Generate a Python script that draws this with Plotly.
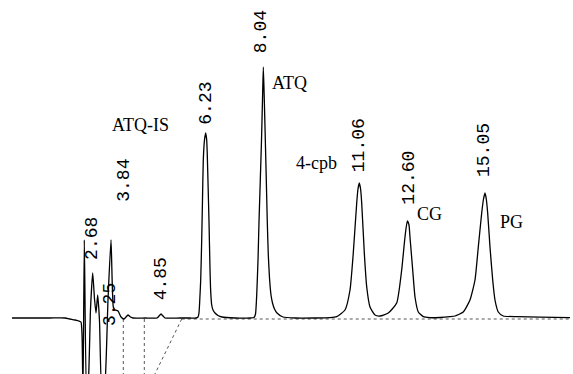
import plotly.graph_objects as go

time_min = [0.135, 0.701, 1.331, 1.803, 1.960, 2.117, 2.243, 2.306, 2.338, 2.369, 2.410, 2.479,
            2.542, 2.605, 2.674, 2.731, 2.778, 2.832, 2.888, 2.967, 3.046, 3.156, 3.250, 3.323,
            3.376, 3.470, 3.565, 3.659, 3.722, 3.785, 3.864, 3.942, 4.320, 4.698, 4.761, 4.824,
            4.886, 4.949, 5.421, 5.736, 5.925, 5.988, 6.019, 6.051, 6.073, 6.104, 6.129, 6.154,
            6.192, 6.230, 6.261, 6.280, 6.309, 6.334, 6.359, 6.381, 6.419, 6.460, 6.523, 6.617,
            6.743, 7.152, 7.624, 7.750, 7.797, 7.835, 7.876, 7.907, 7.948, 7.986, 8.017, 8.043,
            8.074, 8.106, 8.137, 8.168, 8.200, 8.238, 8.285, 8.332, 8.395, 8.474, 8.662, 9.040,
            9.669, 10.141, 10.352, 10.613, 10.771, 10.874, 10.982, 11.022, 11.063, 11.104, 11.139,
            11.221, 11.297, 11.400, 11.557, 11.715, 11.976, 12.240, 12.397, 12.501, 12.574, 12.627,
            12.658, 12.744, 12.816, 12.920, 13.078, 13.288, 13.602, 13.917, 14.075, 14.335, 14.546,
            14.704, 14.808, 14.915, 14.972, 15.019, 15.059, 15.103, 15.176, 15.261, 15.333, 15.437,
            15.594, 16.016, 16.749, 17.694]
signal = [1, 1, 1, 1, 0, -1, -2, -3, -16, -75, 79, -75,
          -60, 10, 46, 20, 6, 24, -2, -75, -70, 20, 79, 12,
          9, 8, 2, 0, 2, 4, 2, 1, 1, 1, 3, 5,
          3, 1, 1, 1, 1, 2, 6, 24, 39, 79, 119, 159,
          179, 186, 179, 164, 129, 97, 59, 32, 14, 9, 6, 3.5,
          2, 1, 1, 1.5, 5, 24, 59, 97, 139, 179, 219, 252,
          219, 179, 139, 97, 64, 41, 24, 16, 10, 6, 2, 1,
          1, 1.3, 2.3, 9, 29, 66, 116, 130, 136, 130, 116,
          66, 32, 12, 4, 3, 6, 16, 49, 82, 98, 94,
          82, 49, 22, 7, 2.3, 1.3, 1.5, 2.3, 3, 7, 19,
          39, 72, 106, 120, 126, 120, 106, 72, 39, 19, 7,
          3, 2.3, 1.8, 1.3]

# Peak retention-time labels
rt_labels = ["2.68", "3.25", "3.84", "4.85", "6.23", "8.04", "11.06", "12.60", "15.05"]
rt_values = [2.68, 3.25, 3.84, 4.85, 6.23, 8.04, 11.06, 12.60, 15.05]

# Compound names
compounds = ["ATQ-IS", "ATQ", "4-cpb", "CG", "PG"]

# Integration event markers (min)
event_times = [3.637, 4.298]

fig = go.Figure()

dot = dict(color="#555555", width=1, dash="dot")
for et in event_times:
    fig.add_trace(go.Scatter(x=[et, et], y=[0, -60], mode="lines", line=dot,
                             hoverinfo="skip", showlegend=False))
fig.add_trace(go.Scatter(x=[5.475, 4.54], y=[0, -61], mode="lines", line=dot,
                         hoverinfo="skip", showlegend=False))
fig.add_trace(go.Scatter(x=[5.475, 17.69], y=[0, 0], mode="lines", line=dot,
                         hoverinfo="skip", showlegend=False))

fig.add_trace(go.Scatter(x=time_min, y=signal, mode="lines",
                         line=dict(color="black", width=1.3, shape="spline", smoothing=0.5),
                         showlegend=False))

# label placement (layout): vertical centre in response units, horizontal shift in px
label_y = [81, 14, 139, 40.5, 216, 287, 174, 141.5, 169]
label_dx = [-1, -1, -6, -1, 0, -2, 0, 0, -2]
for txt, rt, yy, dx in zip(rt_labels, rt_values, label_y, label_dx):
    fig.add_annotation(x=rt, y=yy, text=txt, showarrow=False, textangle=-90,
                       xanchor="center", yanchor="middle", xshift=dx,
                       font=dict(family="Liberation Mono", size=18, color="black"))

name_pos = [(4.163, 194), (8.852, 236), (9.701, 156), (13.257, 105.5), (15.868, 97.5)]
for name, (xx, yy) in zip(compounds, name_pos):
    fig.add_annotation(x=xx, y=yy, text=name, showarrow=False,
                       xanchor="center", yanchor="middle",
                       font=dict(family="Liberation Serif", size=18, color="black"))

fig.update_layout(
    width=573, height=374,
    margin=dict(l=0, r=0, t=0, b=0),
    paper_bgcolor="white", plot_bgcolor="white",
    xaxis=dict(range=[-0.243, 17.788], visible=False, fixedrange=True),
    yaxis=dict(range=[-55, 319], visible=False, fixedrange=True),
)

fig.write_html("out.html")
